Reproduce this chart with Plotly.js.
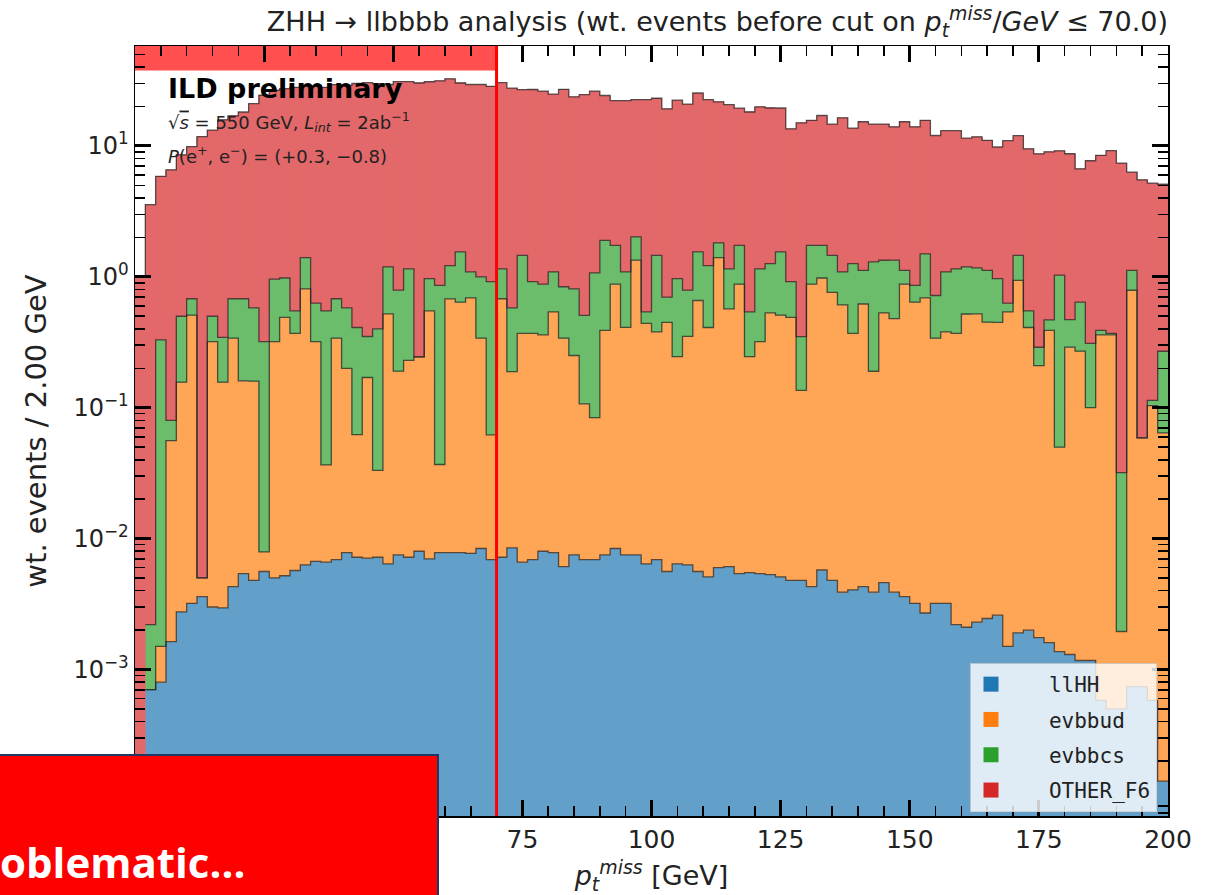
<!DOCTYPE html>
<html><head><meta charset="utf-8">
<script src="https://cdn.plot.ly/plotly-3.0.1.min.js"></script>
<style>html,body{margin:0;padding:0;background:#fff}</style>
</head><body>
<div id="chart" style="width:1219px;height:895px"></div>
<script>
// ---- Data: 100 bins of 2 GeV in p_t^miss (0..200 GeV) ----
const binWidth = 2;
const nBins = 100;
const seriesNames = ["llHH", "evbbud", "evbbcs", "OTHER_F6"];

const llHH = [0, 0.0007, 0.0008, 0.00163, 0.00275, 0.0032, 0.0036, 0.003, 0.00295, 0.0043,
 0.0054, 0.0048, 0.0056, 0.005, 0.0052, 0.0057, 0.0063, 0.0067, 0.0066, 0.0069,
 0.0078, 0.0072, 0.0071, 0.0072, 0.0064, 0.0075, 0.0072, 0.008, 0.007, 0.0078,
 0.0078, 0.0078, 0.0077, 0.0084, 0.0069, 0.0072, 0.0085, 0.0066, 0.0069, 0.008,
 0.0078, 0.0061, 0.0075, 0.0069, 0.0069, 0.0075, 0.0084, 0.0075, 0.0075, 0.0064,
 0.0069, 0.0056, 0.0064, 0.0063, 0.0056, 0.0051, 0.006, 0.0061, 0.0054, 0.0055,
 0.0054, 0.0053, 0.0051, 0.0048, 0.0048, 0.0043, 0.00575, 0.0048, 0.0039, 0.00405,
 0.0043, 0.0039, 0.0046, 0.0039, 0.0036, 0.0032, 0.0027, 0.0032, 0.0032, 0.0022,
 0.0021, 0.0023, 0.00245, 0.0026, 0.0015, 0.0019, 0.002, 0.00175, 0.0016, 0.00137,
 0.0013, 0.00117, 0.00117, 0.00058, 0.0005, 0.0005, 0.00074, 0.00074, 0.00058, 0.00014];

const evbbud = [0, 0, 0.0007, 0.0544, 0.154, 0.507, 0.0014, 0.317, 0.154, 0.336,
 0.155, 0.155, 0.0023, 0.315, 0.485, 0.364, 0.804, 0.313, 0.030, 0.333,
 0.192, 0.055, 0.163, 0.026, 0.514, 0.183, 0.223, 0.237, 0.543, 0.029,
 0.672, 0.632, 0.682, 0.332, 0.055, 0.673, 0.18, 0.363, 0.363, 0.352,
 0.532, 0.334, 0.243, 0.10, 0.077, 0.383, 0.872, 0.403, 1.333, 0.434,
 0.373, 0.444, 0.239, 0.344, 0.654, 0.405, 1.394, 0.564, 0.875, 0.24,
 0.315, 0.525, 0.505, 0.485, 0.131, 0.876, 0.974, 0.755, 0.606, 0.366,
 0.616, 0.186, 0.525, 0.476, 0.876, 0.637, 0.687, 0.337, 0.377, 0.368,
 0.518, 0.518, 0.448, 0.447, 0.539, 0.938, 0.408, 0.208, 0.388, 0.0486,
 0.289, 0.269, 0.099, 0.359, 0.3595, 0.00145, 0.789, 0.058, 0.103, 0.064];

const evbbcs = [0, 0.0015, 0.3285, 0.024, 0.343, 0.17, 0, 0.18, 0.188, 0.34,
 0.52, 0.42, 0.312, 0.64, 0.49, 0.18, 0.59, 0.31, 0.513, 0.34,
 0.38, 0.348, 0.18, 0.367, 0.67, 0.60, 0.92, 0, 0.42, 0.823,
 0.54, 0.91, 0.40, 0.66, 0.858, 0.47, 0.39, 1.09, 0.55, 0.52,
 0.55, 0.50, 0.56, 0.40, 0.99, 1.51, 0.86, 0.68, 0.68, 0.10,
 1.08, 0.25, 0.725, 0.44, 0.89, 0.81, 0.42, 0.58, 0.86, 0.295,
 0.83, 0.73, 1.04, 0.43, 0.214, 0.86, 0.76, 0.70, 0.48, 0.89,
 0.50, 1.11, 0.81, 0.86, 0.24, 0.22, 0.81, 0.38, 0.71, 0.78,
 0.67, 0.65, 0.67, 0.52, 0.09, 0.52, 0.14, 0.08, 0.08, 0.98,
 0.18, 0.37, 0.21, 0.03, 0.01, 0.030, 0.33, 0, 0.010, 0.206];

const otherF6 = [1.0, 3.56, 5.52, 6.49, 8.05, 9.22, 11.8, 12.7, 15.46, 16.3,
 17.5, 20.5, 24.1, 25.7, 26.5, 27.45, 27.6, 27.9, 27.45, 28.8,
 28.4, 29.6, 30.15, 29.6, 28.3, 30.2, 29.85, 30.05, 30.0, 30.6,
 31.3, 28.75, 28.4, 28.5, 27.6, 29.35, 27.1, 25.5, 26.1, 25.4,
 23.8, 26.2, 22.9, 24.2, 25.2, 22.4, 20.5, 21.1, 20.6, 22.05,
 21.7, 18.5, 21.4, 20.1, 23.85, 21.4, 19.9, 19.55, 17.75, 17.65,
 18.75, 18.25, 17.95, 12.6, 14.65, 13.95, 15.35, 13.25, 15.3, 12.45,
 14.2, 13.4, 13.35, 12.65, 14.2, 13.15, 14.2, 11.3, 12.0, 11.95,
 10.3, 10.55, 9.9, 8.85, 10.35, 10.55, 8.95, 8.4, 8.55, 8.15,
 8.25, 6.05, 7.4, 8.1, 8.85, 7.37, 5.2, 5.45, 5.09, 4.83];

const cutValue = 70.0;
const xTickVals = [75, 100, 125, 150, 175, 200];
const xMajorHidden = [0, 25, 50];
const yTickVals = [0.001, 0.01, 0.1, 1, 10];
const yTickText = ["10<sup>−3</sup>", "10<sup>−2</sup>", "10<sup>−1</sup>", "10<sup>0</sup>", "10<sup>1</sup>"];

// ---- Styling ----
const fillColors = ["#62a0ca", "#ffa556", "#6bbc6b", "#e2686a"];
const legendColors = ["#1f77b4", "#ff7f0e", "#2ca02c", "#d62728"];
const FONT = "DejaVu Sans, Liberation Sans, sans-serif";

const series = [llHH, evbbud, evbbcs, otherF6];
const centers = [], edges = [];
for (let i = 0; i < nBins; i++) centers.push(binWidth * i + binWidth / 2);
for (let i = 0; i <= nBins; i++) edges.push(binWidth * i);

const traces = [];
series.forEach((vals, k) => {
  traces.push({
    type: "bar", x: centers, y: vals, width: binWidth,
    marker: {color: fillColors[k], line: {width: 0.6, color: fillColors[k]}},
    showlegend: false, hoverinfo: "skip"
  });
});
let cum = new Array(nBins).fill(0);
series.forEach((vals, k) => {
  cum = cum.map((c, i) => c + vals[i]);
  const yy = cum.map(v => v > 0 ? v : null);
  yy.push(yy[yy.length - 1]);
  traces.push({
    type: "scatter", mode: "lines", x: edges, y: yy,
    line: {shape: "hv", color: "rgba(40,40,40,0.75)", width: 1.3},
    showlegend: false, hoverinfo: "skip", connectgaps: false
  });
});
const pad = "\u00a0\u00a0\u00a0";
seriesNames.forEach((n, k) => {
  traces.push({
    type: "scatter", mode: "markers", x: [null], y: [null], name: pad + n,
    legendgroup: n,
    marker: {symbol: "square", size: 15, color: legendColors[k]}
  });
});

const minorY = [];
for (let d = -5; d <= 1; d++) for (let m = 2; m <= 9; m++) minorY.push(m * Math.pow(10, d));
const minorX = [];
for (let v = 0; v <= 200; v += 5) if (v % 25 !== 0) minorX.push(v);

const L = 135, R = 1168, T = 45.5, B = 816;
const px = v => (v - L) / (R - L);
const py = v => (B - v) / (B - T);

const layout = {
  width: 1219, height: 895,
  margin: {l: L, r: 1219 - R, t: T, b: 895 - B},
  paper_bgcolor: "#fff", plot_bgcolor: "#fff",
  barmode: "stack", bargap: 0,
  font: {family: FONT, color: "#222", size: 22},
  showlegend: true,
  title: {
    text: "ZHH → llbbbb analysis (wt. events before cut on <i>p</i><sub><i>t</i></sub><sup><i>miss</i></sup>/<i>GeV</i> ≤ 70.0)",
    x: 1, xref: "paper", xanchor: "right", y: 1 - 22 / 895, yref: "container", yanchor: "middle",
    font: {family: FONT, size: 27, color: "#222"}
  },
  xaxis: {
    range: [0, 200], showgrid: false, zeroline: false,
    showline: true, linecolor: "#000", linewidth: 1.5, mirror: "allticks",
    ticks: "inside", ticklen: 16, tickwidth: 3, tickcolor: "#000",
    tickmode: "array", tickvals: xMajorHidden.concat(xTickVals),
    ticktext: xMajorHidden.map(() => "").concat(xTickVals.map(String)),
    tickfont: {family: FONT, size: 25, color: "#222"},
    minor: {ticks: "inside", ticklen: 10, tickwidth: 1.6, tickcolor: "#000", tickmode: "array", tickvals: minorX, showgrid: false},
    title: {text: "<i>p</i><sub><i>t</i></sub><sup><i>miss</i></sup> [GeV]", font: {family: FONT, size: 27, color: "#222"}, standoff: 14},
    automargin: false
  },
  yaxis: {
    type: "log", range: [-4.12, 1.764], showgrid: false, zeroline: false,
    showline: true, linecolor: "#000", linewidth: 1.5, mirror: "allticks",
    ticks: "inside", ticklen: 16, tickwidth: 3, tickcolor: "#000",
    tickmode: "array", tickvals: yTickVals, ticktext: yTickText,
    tickfont: {family: FONT, size: 24, color: "#222"},
    minor: {ticks: "inside", ticklen: 10, tickwidth: 1.6, tickcolor: "#000", tickmode: "array", tickvals: minorY, showgrid: false},
    title: {text: "wt. events / 2.00 GeV", font: {family: FONT, size: 29, color: "#222"}, standoff: 18},
    automargin: false
  },
  legend: {
    x: px(1157), xanchor: "right", y: py(812), yanchor: "bottom",
    bgcolor: "rgba(255,255,255,0.8)", bordercolor: "rgba(204,204,204,0.8)", borderwidth: 1,
    font: {family: "DejaVu Sans Mono, monospace", size: 21, color: "#222"},
    itemwidth: 30, tracegroupgap: 5, traceorder: "grouped"
  },
  shapes: [
    {type: "rect", xref: "x", yref: "paper", x0: 0, x1: cutValue, y0: py(70), y1: 1,
     fillcolor: "#ff4f4f", line: {width: 0}, layer: "below"},
    {type: "line", xref: "x", yref: "paper", x0: cutValue, x1: cutValue, y0: 0, y1: 1,
     line: {color: "#ff0000", width: 3}, layer: "above"},
    {type: "rect", xref: "paper", yref: "paper", x0: px(-20), x1: px(438), y0: py(1000), y1: py(755),
     fillcolor: "#ff0000", line: {color: "#203864", width: 2}, layer: "above"}
  ],
  annotations: [
    {text: "<b>ILD preliminary</b>", xref: "paper", yref: "paper", x: px(166), y: py(88),
     xanchor: "left", yanchor: "middle", showarrow: false, font: {family: FONT, size: 27, color: "#000"}},
    {text: "√<span style=\"text-decoration:overline\"><i>s</i></span> = 550 GeV, <i>L</i><sub><i>int</i></sub> = 2ab<sup>−1</sup>", xref: "paper", yref: "paper",
     x: px(166), y: py(122), xanchor: "left", yanchor: "middle", showarrow: false, font: {family: FONT, size: 18, color: "#222"}},
    {text: "<i>P</i>(e<sup>+</sup>, e<sup>−</sup>) = (+0.3, −0.8)", xref: "paper", yref: "paper",
     x: px(166), y: py(155), xanchor: "left", yanchor: "middle", showarrow: false, font: {family: FONT, size: 18, color: "#222"}},
    {text: "<b>oblematic...</b>", xref: "paper", yref: "paper", x: px(-2), y: py(862),
     xanchor: "left", yanchor: "middle", showarrow: false, font: {family: "Open Sans, sans-serif", size: 42, color: "#fff"}}
  ]
};

Plotly.newPlot("chart", traces, layout, {displayModeBar: false, staticPlot: true});
</script>
</body></html>
